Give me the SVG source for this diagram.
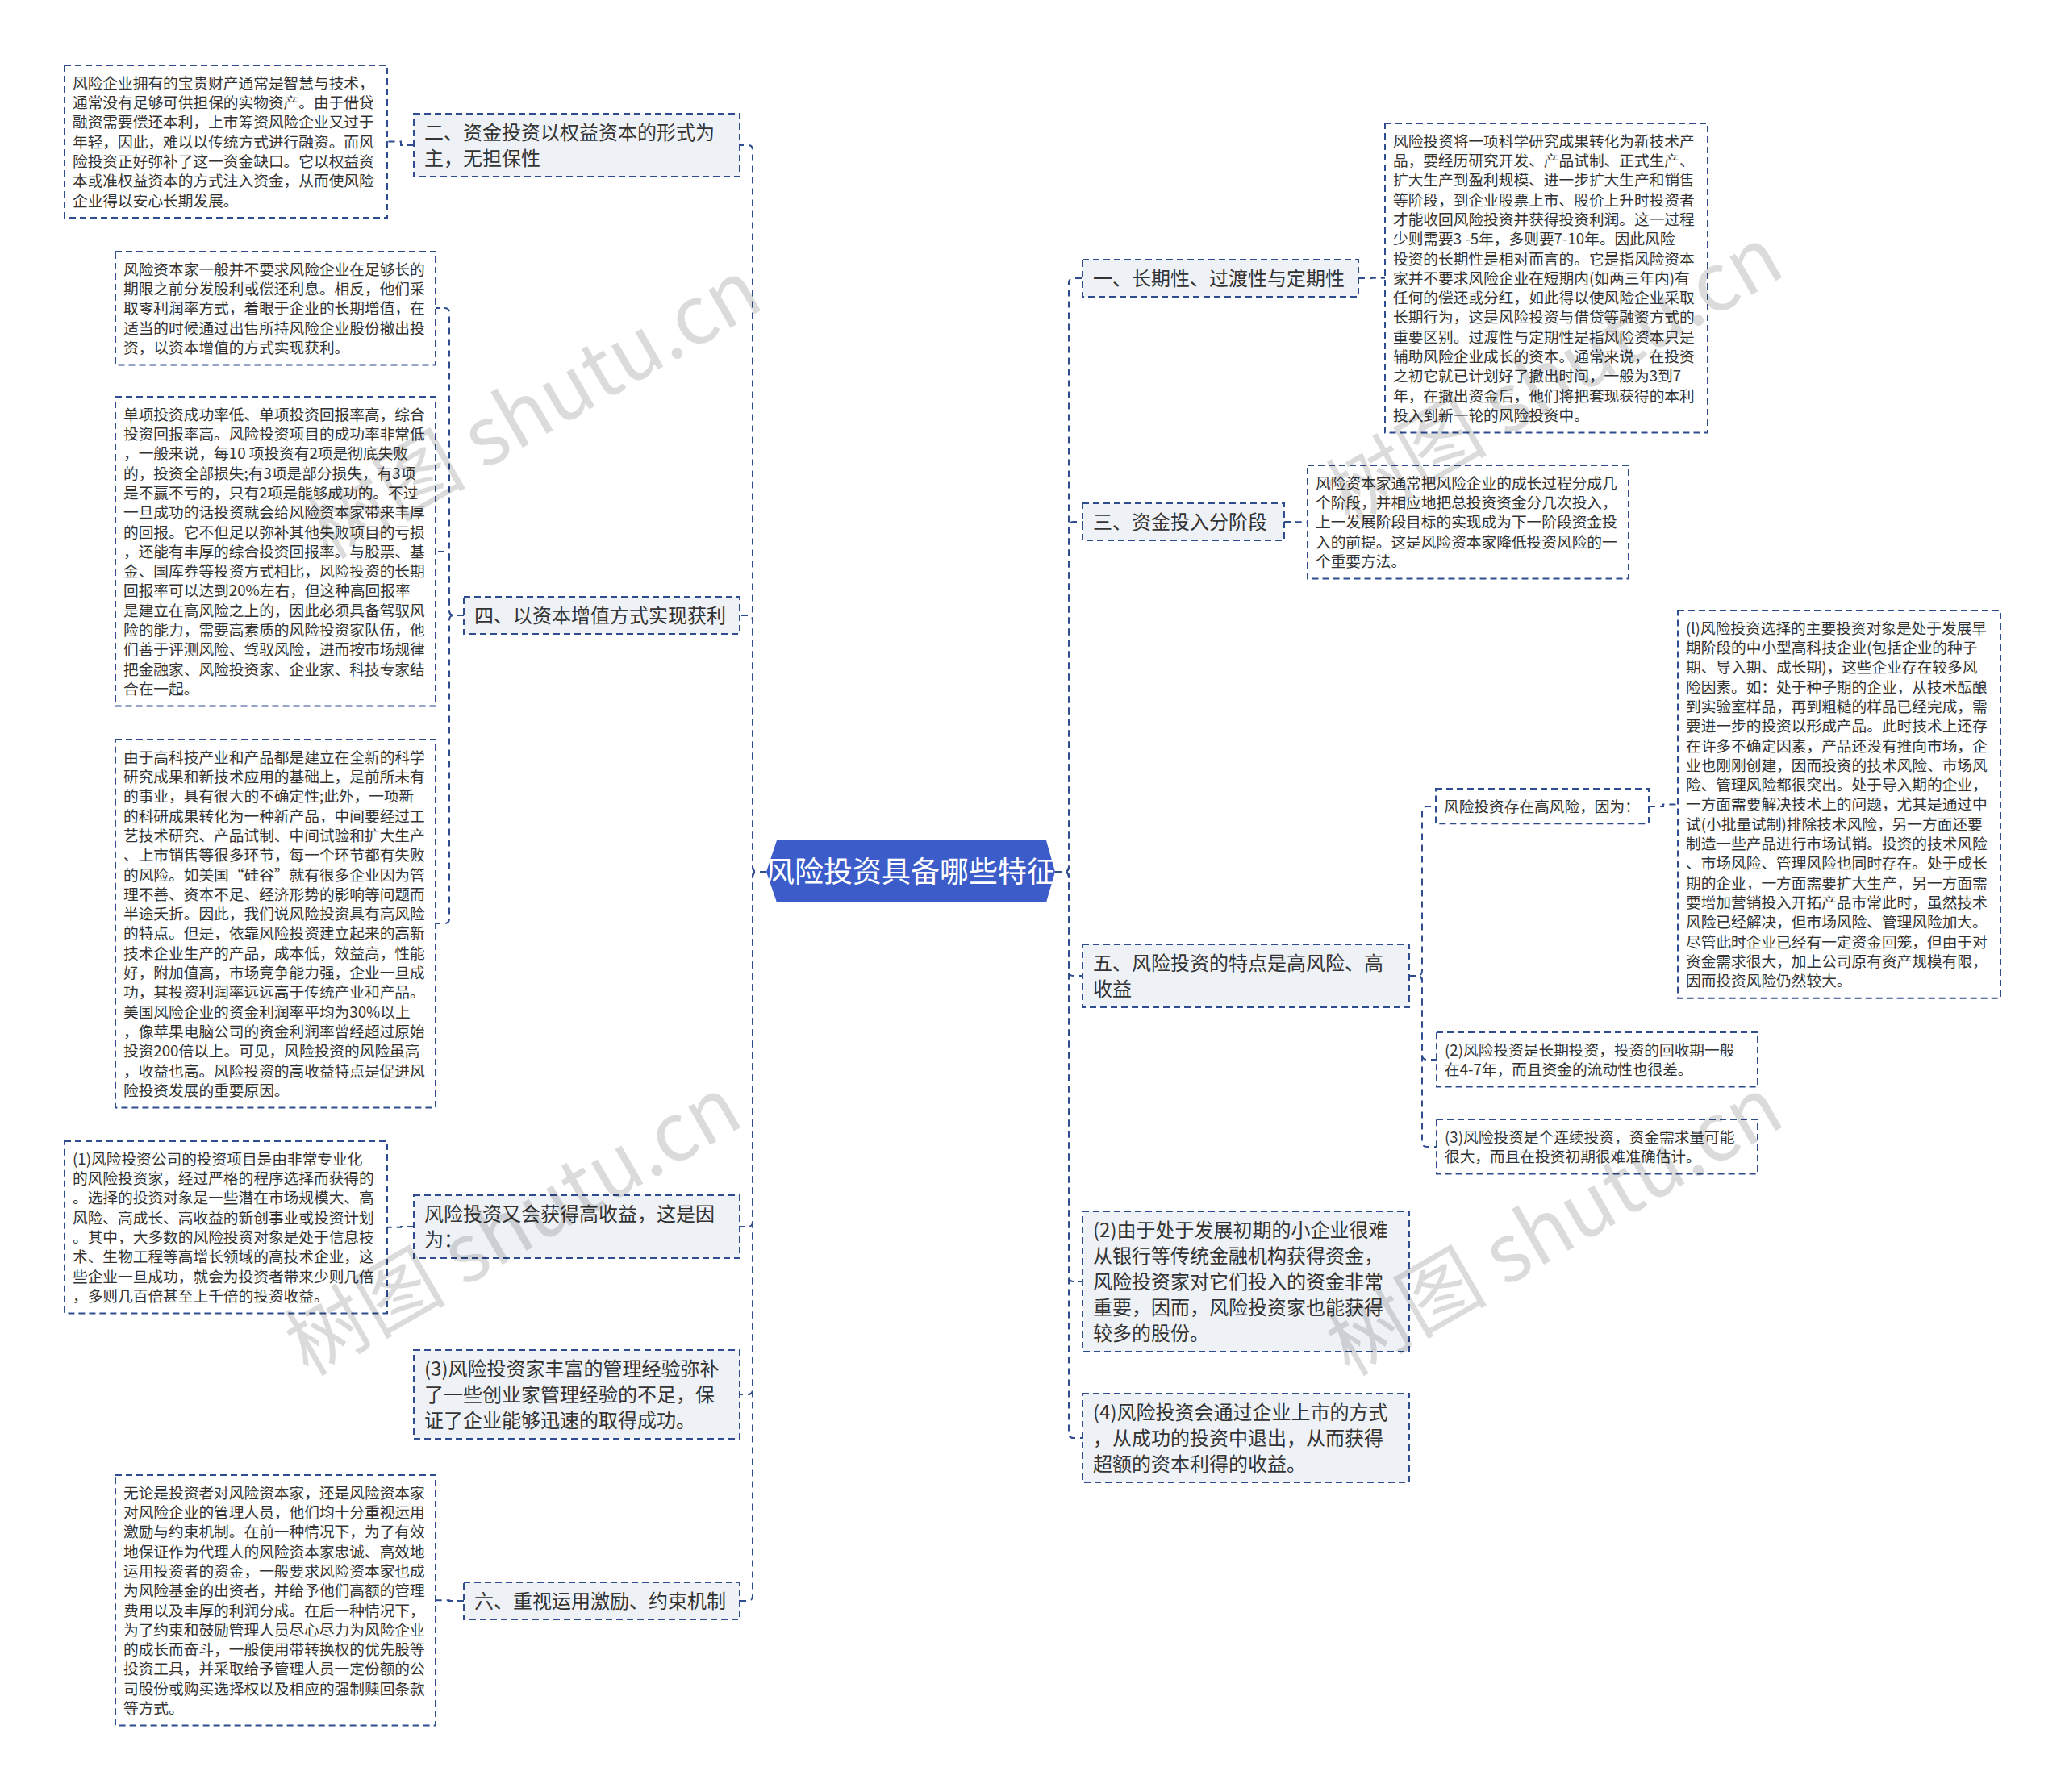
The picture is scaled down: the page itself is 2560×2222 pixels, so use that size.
<svg xmlns="http://www.w3.org/2000/svg" width="2560" height="2222" viewBox="0 0 2560 2222">
<style>
text{font-family:"Noto Sans CJK SC","Microsoft YaHei",sans-serif;fill:#333}
.leaf rect{fill:#fff;stroke:#2f4c8f;stroke-width:2;stroke-dasharray:8 5}
.branch rect{fill:#eef1f6;stroke:#2f4c8f;stroke-width:2;stroke-dasharray:8 5}
.t18{font-size:18.7px}
.t24{font-size:24px}
#connectors path{fill:none;stroke:#2f4c8f;stroke-width:2;stroke-dasharray:8 6}
.wm{font-size:100px;fill:#000;fill-opacity:0.14;font-family:"Noto Sans CJK SC",sans-serif}
</style>
<rect width="2560" height="2222" fill="#fff"/>
<g id="connectors">
<path d="M950 1081H939Q933 1081 933 1075V186Q933 180 927 180H917"/>
<path d="M950 1081H939Q933 1081 933 1075V769Q933 763 927 763H917"/>
<path d="M950 1081H939Q933 1081 933 1087V1515Q933 1521 927 1521H917"/>
<path d="M950 1081H939Q933 1081 933 1087V1723Q933 1729 927 1729H917"/>
<path d="M950 1081H939Q933 1081 933 1087V1979Q933 1985 927 1985H917"/>
<path d="M1308 1081H1319Q1325 1081 1325 1075V351Q1325 345 1331 345H1342"/>
<path d="M1308 1081H1319Q1325 1081 1325 1075V653Q1325 647 1331 647H1342"/>
<path d="M1308 1081H1319Q1325 1081 1325 1087V1204Q1325 1210 1331 1210H1342"/>
<path d="M1308 1081H1319Q1325 1081 1325 1087V1583Q1325 1589 1331 1589H1342"/>
<path d="M1308 1081H1319Q1325 1081 1325 1087V1777Q1325 1783 1331 1783H1342"/>
<path d="M513 180H497V175.5H480"/>
<path d="M575 763H563Q557 763 557 757V388Q557 382 551 382H540"/>
<path d="M575 763H563Q557 763 557 757V690Q557 684 551 684H540"/>
<path d="M575 763H563Q557 763 557 769V1139Q557 1145 551 1145H540"/>
<path d="M513 1521H497V1521.7H480"/>
<path d="M575 1985H557V1984.3H540"/>
<path d="M1684 345H1700V344.8H1717"/>
<path d="M1592 647H1606V647.3H1621"/>
<path d="M1747 1210H1757Q1763 1210 1763 1204V1006Q1763 1000 1769 1000H1780"/>
<path d="M1747 1210H1757Q1763 1210 1763 1216V1308Q1763 1314 1769 1314H1781"/>
<path d="M1747 1210H1757Q1763 1210 1763 1216V1416Q1763 1422 1769 1422H1781"/>
<path d="M2044 1000H2062V997.4H2080"/>
</g>
<g id="center">
<polygon points="950,1081 963,1042 1297,1042 1308,1081 1297,1119 963,1119" fill="#3b5cc9"/>
<text x="1129" y="1094" text-anchor="middle" style="font-size:36px;fill:#fff">风险投资具备哪些特征</text>
</g>
<g id="b2" class="branch">
<rect x="513" y="141" width="404" height="78"/>
<text class="t24" x="526" y="172.5"><tspan x="526">二、资金投资以权益资本的形式为</tspan><tspan x="526" dy="32">主，无担保性</tspan></text>
</g>
<g id="b4" class="branch">
<rect x="575" y="740" width="342" height="46"/>
<text class="t24" x="588" y="771.5">四、以资本增值方式实现获利</text>
</g>
<g id="bgao" class="branch">
<rect x="513" y="1482" width="404" height="78"/>
<text class="t24" x="526" y="1513.5"><tspan x="526">风险投资又会获得高收益，这是因</tspan><tspan x="526" dy="32">为：</tspan></text>
</g>
<g id="b3l" class="branch">
<rect x="513" y="1674" width="404" height="110"/>
<text class="t24" x="526" y="1705.5"><tspan x="526">(3)风险投资家丰富的管理经验弥补</tspan><tspan x="526" dy="32">了一些创业家管理经验的不足，保</tspan><tspan x="526" dy="32">证了企业能够迅速的取得成功。</tspan></text>
</g>
<g id="b6" class="branch">
<rect x="575" y="1962" width="342" height="46"/>
<text class="t24" x="588" y="1993.5">六、重视运用激励、约束机制</text>
</g>
<g id="b1" class="branch">
<rect x="1342" y="322" width="342" height="46"/>
<text class="t24" x="1355" y="353.5">一、长期性、过渡性与定期性</text>
</g>
<g id="b3" class="branch">
<rect x="1342" y="624" width="250" height="46"/>
<text class="t24" x="1355" y="655.5">三、资金投入分阶段</text>
</g>
<g id="b5" class="branch">
<rect x="1342" y="1171" width="405" height="78"/>
<text class="t24" x="1355" y="1202.5"><tspan x="1355">五、风险投资的特点是高风险、高</tspan><tspan x="1355" dy="32">收益</tspan></text>
</g>
<g id="b2r" class="branch">
<rect x="1342" y="1502" width="405" height="174"/>
<text class="t24" x="1355" y="1533.5"><tspan x="1355">(2)由于处于发展初期的小企业很难</tspan><tspan x="1355" dy="32">从银行等传统金融机构获得资金，</tspan><tspan x="1355" dy="32">风险投资家对它们投入的资金非常</tspan><tspan x="1355" dy="32">重要，因而，风险投资家也能获得</tspan><tspan x="1355" dy="32">较多的股份。</tspan></text>
</g>
<g id="b4r" class="branch">
<rect x="1342" y="1728" width="405" height="110"/>
<text class="t24" x="1355" y="1759.5"><tspan x="1355">(4)风险投资会通过企业上市的方式</tspan><tspan x="1355" dy="32">，从成功的投资中退出，从而获得</tspan><tspan x="1355" dy="32">超额的资本利得的收益。</tspan></text>
</g>
<g id="l1" class="leaf">
<rect x="80" y="81" width="400" height="189"/>
<text class="t18" y="109.7"><tspan x="90">风险企业拥有的宝贵财产通常是智慧与技术，</tspan><tspan x="90" dy="24.3">通常没有足够可供担保的实物资产。由于借贷</tspan><tspan x="90" dy="24.3">融资需要偿还本利，上市筹资风险企业又过于</tspan><tspan x="90" dy="24.3">年轻，因此，难以以传统方式进行融资。而风</tspan><tspan x="90" dy="24.3">险投资正好弥补了这一资金缺口。它以权益资</tspan><tspan x="90" dy="24.3">本或准权益资本的方式注入资金，从而使风险</tspan><tspan x="90" dy="24.3">企业得以安心长期发展。</tspan></text>
</g>
<g id="l2" class="leaf">
<rect x="143" y="312" width="397" height="140.5"/>
<text class="t18" y="340.7"><tspan x="153">风险资本家一般并不要求风险企业在足够长的</tspan><tspan x="153" dy="24.3">期限之前分发股利或偿还利息。相反，他们采</tspan><tspan x="153" dy="24.3">取零利润率方式，着眼于企业的长期增值，在</tspan><tspan x="153" dy="24.3">适当的时候通过出售所持风险企业股份撤出投</tspan><tspan x="153" dy="24.3">资，以资本增值的方式实现获利。</tspan></text>
</g>
<g id="l3" class="leaf">
<rect x="143" y="492" width="397" height="383.5"/>
<text class="t18" y="520.7"><tspan x="153">单项投资成功率低、单项投资回报率高，综合</tspan><tspan x="153" dy="24.3">投资回报率高。风险投资项目的成功率非常低</tspan><tspan x="153" dy="24.3">，一般来说，每10 项投资有2项是彻底失败</tspan><tspan x="153" dy="24.3">的，投资全部损失;有3项是部分损失，有3项</tspan><tspan x="153" dy="24.3">是不赢不亏的，只有2项是能够成功的。不过</tspan><tspan x="153" dy="24.3">一旦成功的话投资就会给风险资本家带来丰厚</tspan><tspan x="153" dy="24.3">的回报。它不但足以弥补其他失败项目的亏损</tspan><tspan x="153" dy="24.3">，还能有丰厚的综合投资回报率。与股票、基</tspan><tspan x="153" dy="24.3">金、国库券等投资方式相比，风险投资的长期</tspan><tspan x="153" dy="24.3">回报率可以达到20%左右，但这种高回报率</tspan><tspan x="153" dy="24.3">是建立在高风险之上的，因此必须具备驾驭风</tspan><tspan x="153" dy="24.3">险的能力，需要高素质的风险投资家队伍，他</tspan><tspan x="153" dy="24.3">们善于评测风险、驾驭风险，进而按市场规律</tspan><tspan x="153" dy="24.3">把金融家、风险投资家、企业家、科技专家结</tspan><tspan x="153" dy="24.3">合在一起。</tspan></text>
</g>
<g id="l4" class="leaf">
<rect x="143" y="917" width="397" height="456.4"/>
<text class="t18" y="945.7"><tspan x="153">由于高科技产业和产品都是建立在全新的科学</tspan><tspan x="153" dy="24.3">研究成果和新技术应用的基础上，是前所未有</tspan><tspan x="153" dy="24.3">的事业，具有很大的不确定性;此外，一项新</tspan><tspan x="153" dy="24.3">的科研成果转化为一种新产品，中间要经过工</tspan><tspan x="153" dy="24.3">艺技术研究、产品试制、中间试验和扩大生产</tspan><tspan x="153" dy="24.3">、上市销售等很多环节，每一个环节都有失败</tspan><tspan x="153" dy="24.3">的风险。如美国“硅谷”就有很多企业因为管</tspan><tspan x="153" dy="24.3">理不善、资本不足、经济形势的影响等问题而</tspan><tspan x="153" dy="24.3">半途夭折。因此，我们说风险投资具有高风险</tspan><tspan x="153" dy="24.3">的特点。但是，依靠风险投资建立起来的高新</tspan><tspan x="153" dy="24.3">技术企业生产的产品，成本低，效益高，性能</tspan><tspan x="153" dy="24.3">好，附加值高，市场竞争能力强，企业一旦成</tspan><tspan x="153" dy="24.3">功，其投资利润率远远高于传统产业和产品。</tspan><tspan x="153" dy="24.3">美国风险企业的资金利润率平均为30%以上</tspan><tspan x="153" dy="24.3">，像苹果电脑公司的资金利润率曾经超过原始</tspan><tspan x="153" dy="24.3">投资200倍以上。可见，风险投资的风险虽高</tspan><tspan x="153" dy="24.3">，收益也高。风险投资的高收益特点是促进风</tspan><tspan x="153" dy="24.3">险投资发展的重要原因。</tspan></text>
</g>
<g id="l5" class="leaf">
<rect x="80" y="1415" width="400" height="213.4"/>
<text class="t18" y="1443.7"><tspan x="90">(1)风险投资公司的投资项目是由非常专业化</tspan><tspan x="90" dy="24.3">的风险投资家，经过严格的程序选择而获得的</tspan><tspan x="90" dy="24.3">。选择的投资对象是一些潜在市场规模大、高</tspan><tspan x="90" dy="24.3">风险、高成长、高收益的新创事业或投资计划</tspan><tspan x="90" dy="24.3">。其中，大多数的风险投资对象是处于信息技</tspan><tspan x="90" dy="24.3">术、生物工程等高增长领域的高技术企业，这</tspan><tspan x="90" dy="24.3">些企业一旦成功，就会为投资者带来少则几倍</tspan><tspan x="90" dy="24.3">，多则几百倍甚至上千倍的投资收益。</tspan></text>
</g>
<g id="l6" class="leaf">
<rect x="143" y="1829" width="397" height="310.6"/>
<text class="t18" y="1857.7"><tspan x="153">无论是投资者对风险资本家，还是风险资本家</tspan><tspan x="153" dy="24.3">对风险企业的管理人员，他们均十分重视运用</tspan><tspan x="153" dy="24.3">激励与约束机制。在前一种情况下，为了有效</tspan><tspan x="153" dy="24.3">地保证作为代理人的风险资本家忠诚、高效地</tspan><tspan x="153" dy="24.3">运用投资者的资金，一般要求风险资本家也成</tspan><tspan x="153" dy="24.3">为风险基金的出资者，并给予他们高额的管理</tspan><tspan x="153" dy="24.3">费用以及丰厚的利润分成。在后一种情况下，</tspan><tspan x="153" dy="24.3">为了约束和鼓励管理人员尽心尽力为风险企业</tspan><tspan x="153" dy="24.3">的成长而奋斗，一般使用带转换权的优先股等</tspan><tspan x="153" dy="24.3">投资工具，并采取给予管理人员一定份额的公</tspan><tspan x="153" dy="24.3">司股份或购买选择权以及相应的强制赎回条款</tspan><tspan x="153" dy="24.3">等方式。</tspan></text>
</g>
<g id="r1" class="leaf">
<rect x="1717" y="153" width="400" height="383.5"/>
<text class="t18" y="181.7"><tspan x="1727">风险投资将一项科学研究成果转化为新技术产</tspan><tspan x="1727" dy="24.3">品，要经历研究开发、产品试制、正式生产、</tspan><tspan x="1727" dy="24.3">扩大生产到盈利规模、进一步扩大生产和销售</tspan><tspan x="1727" dy="24.3">等阶段，到企业股票上市、股价上升时投资者</tspan><tspan x="1727" dy="24.3">才能收回风险投资并获得投资利润。这一过程</tspan><tspan x="1727" dy="24.3">少则需要3 -5年，多则要7-10年。因此风险</tspan><tspan x="1727" dy="24.3">投资的长期性是相对而言的。它是指风险资本</tspan><tspan x="1727" dy="24.3">家并不要求风险企业在短期内(如两三年内)有</tspan><tspan x="1727" dy="24.3">任何的偿还或分红，如此得以使风险企业采取</tspan><tspan x="1727" dy="24.3">长期行为，这是风险投资与借贷等融资方式的</tspan><tspan x="1727" dy="24.3">重要区别。过渡性与定期性是指风险资本只是</tspan><tspan x="1727" dy="24.3">辅助风险企业成长的资本。通常来说，在投资</tspan><tspan x="1727" dy="24.3">之初它就已计划好了撤出时间，一般为3到7</tspan><tspan x="1727" dy="24.3">年，在撤出资金后，他们将把套现获得的本利</tspan><tspan x="1727" dy="24.3">投入到新一轮的风险投资中。</tspan></text>
</g>
<g id="r3" class="leaf">
<rect x="1621" y="577" width="398" height="140.5"/>
<text class="t18" y="605.7"><tspan x="1631">风险资本家通常把风险企业的成长过程分成几</tspan><tspan x="1631" dy="24.3">个阶段，并相应地把总投资资金分几次投入，</tspan><tspan x="1631" dy="24.3">上一发展阶段目标的实现成为下一阶段资金投</tspan><tspan x="1631" dy="24.3">入的前提。这是风险资本家降低投资风险的一</tspan><tspan x="1631" dy="24.3">个重要方法。</tspan></text>
</g>
<g id="r5a" class="leaf">
<rect x="1780" y="978" width="264" height="43.3"/>
<text class="t18" x="1790" y="1006.7">风险投资存在高风险，因为：</text>
</g>
<g id="r5" class="leaf">
<rect x="2080" y="757" width="400" height="480.7"/>
<text class="t18" y="785.7"><tspan x="2090">(l)风险投资选择的主要投资对象是处于发展早</tspan><tspan x="2090" dy="24.3">期阶段的中小型高科技企业(包括企业的种子</tspan><tspan x="2090" dy="24.3">期、导入期、成长期)，这些企业存在较多风</tspan><tspan x="2090" dy="24.3">险因素。如：处于种子期的企业，从技术酝酿</tspan><tspan x="2090" dy="24.3">到实验室样品，再到粗糙的样品已经完成，需</tspan><tspan x="2090" dy="24.3">要进一步的投资以形成产品。此时技术上还存</tspan><tspan x="2090" dy="24.3">在许多不确定因素，产品还没有推向市场，企</tspan><tspan x="2090" dy="24.3">业也刚刚创建，因而投资的技术风险、市场风</tspan><tspan x="2090" dy="24.3">险、管理风险都很突出。处于导入期的企业，</tspan><tspan x="2090" dy="24.3">一方面需要解决技术上的问题，尤其是通过中</tspan><tspan x="2090" dy="24.3">试(小批量试制)排除技术风险，另一方面还要</tspan><tspan x="2090" dy="24.3">制造一些产品进行市场试销。投资的技术风险</tspan><tspan x="2090" dy="24.3">、市场风险、管理风险也同时存在。处于成长</tspan><tspan x="2090" dy="24.3">期的企业，一方面需要扩大生产，另一方面需</tspan><tspan x="2090" dy="24.3">要增加营销投入开拓产品市常此时，虽然技术</tspan><tspan x="2090" dy="24.3">风险已经解决，但市场风险、管理风险加大。</tspan><tspan x="2090" dy="24.3">尽管此时企业已经有一定资金回笼，但由于对</tspan><tspan x="2090" dy="24.3">资金需求很大，加上公司原有资产规模有限，</tspan><tspan x="2090" dy="24.3">因而投资风险仍然较大。</tspan></text>
</g>
<g id="r5b" class="leaf">
<rect x="1781" y="1280" width="398" height="67.6"/>
<text class="t18" y="1308.7"><tspan x="1791">(2)风险投资是长期投资，投资的回收期一般</tspan><tspan x="1791" dy="24.3">在4-7年，而且资金的流动性也很差。</tspan></text>
</g>
<g id="r5c" class="leaf">
<rect x="1781" y="1388" width="398" height="67.6"/>
<text class="t18" y="1416.7"><tspan x="1791">(3)风险投资是个连续投资，资金需求量可能</tspan><tspan x="1791" dy="24.3">很大，而且在投资初期很难准确估计。</tspan></text>
</g>
<g id="watermarks">
<text class="wm" x="665" y="514" text-anchor="middle" dominant-baseline="middle" transform="rotate(-30 665 514)">树图 shutu.cn</text>
<text class="wm" x="640" y="1527" text-anchor="middle" dominant-baseline="middle" transform="rotate(-30 640 1527)">树图 shutu.cn</text>
<text class="wm" x="1931" y="473" text-anchor="middle" dominant-baseline="middle" transform="rotate(-30 1931 473)">树图 shutu.cn</text>
<text class="wm" x="1931" y="1527" text-anchor="middle" dominant-baseline="middle" transform="rotate(-30 1931 1527)">树图 shutu.cn</text>
</g>
</svg>
